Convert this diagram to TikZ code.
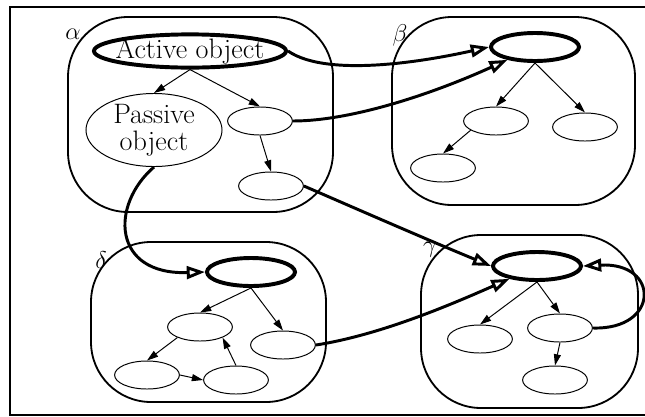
\documentclass[tikz,border=0pt]{standalone}
\usepackage{tikz}
\usetikzlibrary{shapes.geometric}
\usetikzlibrary{arrows.meta}
\def\myfont{\fontsize{18}{12}\selectfont}
\def\mytextfont{\fontsize{20}{19}\selectfont}
\def\myradius{1.5cm}
\tikzset{
x=0.025cm,y=-0.025cm, % pixel grid, y runs down
>={Triangle[length=8pt,width=5pt]}, % filled tips for the thin arrows
my obj/.style={draw,ellipse,inner sep=0pt,line width=0.7pt,
  minimum width=1.62cm,minimum height=0.7cm,font=\mytextfont},
my root/.style={my obj,line width=2.8pt,minimum width=2.2cm,minimum height=0.7cm},
my space/.style={draw,line width=1.3pt,rounded corners=\myradius},
my label/.style={inner sep=0pt,font=\myfont},
thin link/.style={->,line width=0.7pt},
thick link/.style={-{Triangle[open,length=13pt,width=9pt]},line width=2.1pt}
}

\begin{document}
\begin{tikzpicture}
\clip (0,0) rectangle (645,416);
\draw[line width=1.2pt] (10,7) rectangle (660,415);

% the four spaces
\draw[my space] (68,17) rectangle (333,212);
\draw[my space] (392,17) rectangle (635,205);
\draw[my space] (91,242) rectangle (326,402);
\draw[my space] (421,235) rectangle (638,408);
\node[my label] (alab) at (73,34)  {$\alpha$};
\node[my label] (blab) at (400,35) {$\beta$};
\node[my label] (dlab) at (101,260) {$\delta$};
\node[my label] (glab) at (430,250) {$\gamma$};

% alpha
\node[my root,minimum width=4.8cm,minimum height=0.83cm,
  label={[font=\mytextfont]center:Active object}] (act) at (190,51) {};
\node[my obj,minimum width=3.4cm,minimum height=1.75cm,align=center] (pas) at (154,130) {Passive\\object};
\node[my obj] (a1) at (260,121) {};
\node[my obj] (a2) at (271,186) {};
\path[thin link] (act.south) edge (pas.north)
                 (act.south) edge (a1.north)
                 (a1.south)  edge (a2.north);

% beta
\node[my root] (broot) at (535,47) {};
\node[my obj]  (b1) at (496,121) {};
\node[my obj]  (b2) at (585,127) {};
\node[my obj]  (b3) at (443,168) {};
\path[thin link] (broot.south) edge (b1.north)
                 (broot.south) edge (b2.north)
                 (b1.200)      edge (b3.north);

% delta
\node[my root] (droot) at (251,272) {};
\node[my obj]  (d1) at (200,327) {};
\node[my obj]  (d2) at (283,345) {};
\node[my obj]  (d3) at (147,375) {};
\node[my obj]  (d4) at (236,380) {};
\path[thin link] (droot.south) edge (d1.north)
                 (droot.south) edge (d2.north)
                 (d1.205)      edge (d3.north)
                 (d3.east)     edge (d4.west)
                 (d4.north)    edge (d1.-25);

% gamma
\node[my root] (groot) at (537,266) {};
\node[my obj]  (g1) at (480,339) {};
\node[my obj]  (g2) at (560,328) {};
\node[my obj]  (g3) at (555,380) {};
\path[thin link] (groot.south) edge (g1.north)
                 (groot.south) edge (g2.north)
                 (g2.south)    edge (g3.north);

% references between spaces
\draw[thick link] (act.east) .. controls (330,80) and (440,58) .. (broot.west);
\draw[thick link] (a1.east) .. controls (350,121) and (430,95) .. (broot.205);
\draw[thick link] (a2.east) .. controls (366,213) and (428,240) .. (groot.west);
\draw[thick link] (pas.south) .. controls (110,205) and (112,275) .. (droot.west);
\draw[thick link] (d2.east) .. controls (380,335) and (450,305) .. (groot.205);
\draw[thick link] (g2.east) .. controls (660,330) and (660,262) .. (groot.east);
\end{tikzpicture}
\end{document}
